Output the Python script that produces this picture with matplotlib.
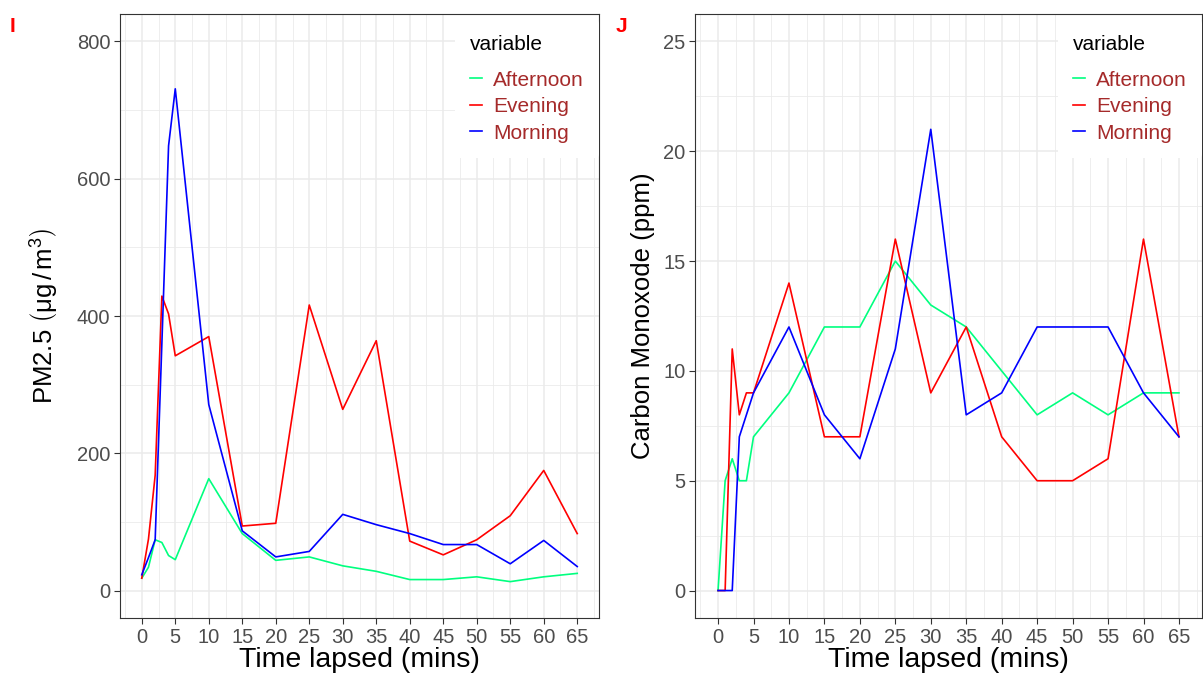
import matplotlib
matplotlib.use("Agg")
import matplotlib.pyplot as plt
from matplotlib.patches import Rectangle
from matplotlib.ticker import MultipleLocator

plt.rcParams['font.family'] = ['Liberation Sans', 'DejaVu Sans']
plt.rcParams['mathtext.fontset'] = 'custom'
plt.rcParams['mathtext.rm'] = 'Liberation Sans'
plt.rcParams['mathtext.it'] = 'Liberation Sans:italic'

# time points (mins)
time = [0, 1, 2, 3, 4, 5, 10, 15, 20, 25, 30, 35, 40, 45, 50, 55, 60, 65]

# PM2.5 (ug/m3)
pm_afternoon = [18, 34, 74, 70, 51, 45, 163, 83, 44, 49, 36, 28, 16, 16, 20, 13, 20, 25]
pm_evening = [18, 75, 168, 429, 403, 342, 370, 94, 98, 416, 264, 364, 72, 52, 74, 109, 175, 83]
pm_morning = [23, 48, 74, 360, 648, 731, 271, 87, 49, 57, 111, 96, 83, 67, 67, 39, 73, 35]

# CO (ppm)
co_afternoon = [0, 5, 6, 5, 5, 7, 9, 12, 12, 15, 13, 12, 10, 8, 9, 8, 9, 9]
co_evening = [0, 0, 11, 8, 9, 9, 14, 7, 7, 16, 9, 12, 7, 5, 5, 6, 16, 7]
co_morning = [0, 0, 0, 7, 8, 9, 12, 8, 6, 11, 21, 8, 9, 12, 12, 12, 9, 7]

series_names = ['Afternoon', 'Evening', 'Morning']
series_colors = ['#00FF7F', '#FF0000', '#0000FF']

W, H = 1203, 687
fig = plt.figure(figsize=(W / 100, H / 100), dpi=100)


def style_panel(ax, ymin, ymax, ymajor, yminor):
    ax.set_facecolor('white')
    ax.set_xlim(-3.25, 68.25)
    ax.set_ylim(ymin, ymax)
    ax.xaxis.set_major_locator(MultipleLocator(5))
    ax.xaxis.set_minor_locator(MultipleLocator(2.5))
    ax.yaxis.set_major_locator(MultipleLocator(ymajor))
    ax.yaxis.set_minor_locator(MultipleLocator(yminor))
    ax.grid(which='major', color='#EBEBEB', linewidth=1.1, zorder=0)
    ax.grid(which='minor', color='#EBEBEB', linewidth=0.6, zorder=0)
    ax.set_axisbelow(True)
    for s in ax.spines.values():
        s.set_color('#333333')
        s.set_linewidth(0.8)
    ax.tick_params(which='major', length=4, width=0.8, color='#333333',
                   labelsize=14.5, labelcolor='#4D4D4D', pad=3)
    ax.tick_params(which='minor', length=0)
    ax.set_xlabel('Time lapsed (mins)', fontsize=20.5, color='black', labelpad=0)


def add_legend(ax, axw, axh):
    # legend sits 6 px below the panel top; white strip fills the gap
    leg = ax.legend(title='variable', loc='upper right',
                    bbox_to_anchor=(1, 1 - 6 / axh),
                    borderaxespad=0, frameon=True, fontsize=15, title_fontsize=15,
                    handlelength=0.58, handletextpad=0.55, labelspacing=0.36,
                    borderpad=0.72)
    leg.get_frame().set_facecolor('white')
    leg.get_frame().set_edgecolor('none')
    leg.get_frame().set_alpha(1)
    leg._legend_box.align = 'left'
    leg._legend_box.sep = 12
    for t in leg.get_texts():
        t.set_color('#A52A2A')
    ax.add_patch(Rectangle((1 - 144 / axw, 1 - 8 / axh), 144 / axw, 8 / axh,
                           transform=ax.transAxes, facecolor='white',
                           edgecolor='none', zorder=2))


# left panel: PM2.5
ax1 = fig.add_axes([120 / W, 69 / H, 479 / W, 604 / H])
for name, vals, c in zip(series_names, [pm_afternoon, pm_evening, pm_morning], series_colors):
    ax1.plot(time, vals, color=c, linewidth=1.2, label=name, zorder=3)
style_panel(ax1, -40, 840, 200, 100)
ax1.set_ylabel(r'PM2.5 $\left(\mathrm{μg\,/\,m^{3}}\right)$', fontsize=18.5,
               color='black', labelpad=11)
add_legend(ax1, 479, 604)

# right panel: CO
ax2 = fig.add_axes([695 / W, 69 / H, 507 / W, 604 / H])
for name, vals, c in zip(series_names, [co_afternoon, co_evening, co_morning], series_colors):
    ax2.plot(time, vals, color=c, linewidth=1.2, label=name, zorder=3)
style_panel(ax2, -1.25, 26.25, 5, 2.5)
ax2.set_ylabel('Carbon Monoxode (ppm)', fontsize=18.5, color='black', labelpad=6)
add_legend(ax2, 507, 604)

fig.text(10 / W, 1 - 26 / H, 'I', color='#FF0000', fontsize=15, fontweight='bold', va='center')
fig.text(616 / W, 1 - 26 / H, 'J', color='#FF0000', fontsize=15, fontweight='bold', va='center')

fig.savefig('out.png', dpi=100)
